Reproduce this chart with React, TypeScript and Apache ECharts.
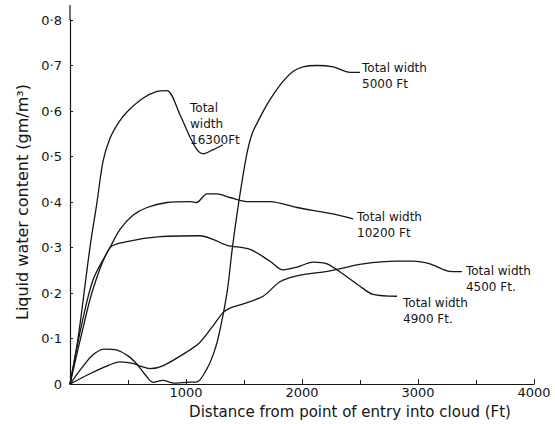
import React, { useEffect, useRef } from "react";
import * as echarts from "echarts";

// Tick labels
const xTicks = [0, 1000, 2000, 3000, 4000];
const yTicks = [0, 0.1, 0.2, 0.3, 0.4, 0.5, 0.6, 0.7, 0.8];

// Total width 16300 ft
const x16300 = [0, 69, 172, 233, 285, 345, 420, 491, 629, 750, 836, 948, 1034, 1095, 1147, 1233, 1319];
const y16300 = [0, 0.1, 0.3, 0.4, 0.49, 0.54, 0.575, 0.598, 0.628, 0.643, 0.645, 0.592, 0.543, 0.515, 0.506, 0.515, 0.526];

// Total width 5000 ft
const x5000 = [0, 100, 200, 300, 400, 500, 580, 650, 716, 800, 900, 1000, 1095, 1181, 1230, 1276, 1353, 1400, 1455, 1520, 1570, 1638, 1698, 1750, 1836, 1922, 2009, 2129, 2267, 2414, 2500];
const y5000 = [0, 0.035, 0.065, 0.077, 0.075, 0.062, 0.043, 0.02, 0.004, 0.008, 0.002, 0.004, 0.005, 0.034, 0.062, 0.1, 0.2, 0.3, 0.4, 0.5, 0.55, 0.586, 0.614, 0.635, 0.665, 0.687, 0.697, 0.7, 0.697, 0.685, 0.685];

// Total width 10200 ft
const x10200 = [0, 100, 200, 345, 431, 543, 664, 836, 1034, 1090, 1181, 1267, 1379, 1526, 1724, 1957, 2241, 2440];
const y10200 = [0, 0.13, 0.23, 0.3, 0.34, 0.371, 0.388, 0.399, 0.401, 0.399, 0.418, 0.418, 0.41, 0.401, 0.401, 0.388, 0.375, 0.363];

// Total width 4500 ft
const x4500 = [0, 150, 300, 431, 550, 600, 690, 800, 1009, 1121, 1233, 1319, 1379, 1466, 1664, 1810, 1957, 2241, 2526, 2819, 2957, 3103, 3250, 3379];
const y4500 = [0, 0.02, 0.038, 0.049, 0.045, 0.04, 0.034, 0.04, 0.071, 0.092, 0.128, 0.157, 0.167, 0.174, 0.193, 0.225, 0.238, 0.249, 0.264, 0.27, 0.27, 0.264, 0.249, 0.247];

// Total width 4900 ft
const x4900 = [0, 100, 200, 345, 491, 776, 1121, 1233, 1353, 1552, 1724, 1836, 1957, 2095, 2216, 2353, 2500, 2612, 2819];
const y4900 = [0, 0.11, 0.21, 0.3, 0.313, 0.324, 0.326, 0.318, 0.305, 0.296, 0.27, 0.251, 0.257, 0.268, 0.264, 0.242, 0.215, 0.197, 0.193];

const labels = {
  w16300: "Total\nwidth\n16300Ft",
  w5000: "Total width\n5000 Ft",
  w10200: "Total width\n10200 Ft",
  w4500: "Total width\n4500 Ft.",
  w4900: "Total width\n4900 Ft.",
};

const FONT = "DejaVu Sans";
const INK = "#151515";

function zip(xs: number[], ys: number[]) {
  return xs.map((x, i) => [x, ys[i]]);
}

function lineSeries(name: string, xs: number[], ys: number[], label: string, offset: number[]) {
  return {
    name,
    type: "line",
    data: zip(xs, ys),
    showSymbol: false,
    smooth: 0.3,
    lineStyle: { color: INK, width: 1.3 },
    endLabel: {
      show: true,
      formatter: () => label,
      color: INK,
      fontFamily: FONT,
      fontSize: 12,
      lineHeight: 16,
      align: "left",
      verticalAlign: "middle",
      distance: 0,
      offset,
    },
  };
}

export default function App() {
  const ref = useRef<HTMLDivElement>(null);
  useEffect(() => {
    if (!ref.current) return;
    const chart = echarts.init(ref.current, null, { renderer: "svg" });
    chart.setOption({
      animation: false,
      backgroundColor: "#ffffff",
      grid: { left: 70, right: 21, top: 20, bottom: 31 },
      xAxis: {
        type: "value",
        min: xTicks[0],
        max: xTicks[xTicks.length - 1],
        interval: 1000,
        name: "Distance from point of entry into cloud (Ft)",
        nameLocation: "middle",
        nameGap: 16,
        nameTextStyle: { fontFamily: FONT, fontSize: 15, color: INK, padding: [0, 0, 0, 96] },
        axisLine: { show: true, lineStyle: { color: INK, width: 1.2 } },
        axisTick: { show: true, inside: true, length: 5, lineStyle: { color: INK } },
        minorTick: { show: true, splitNumber: 2, length: 4, lineStyle: { color: INK } },
        axisLabel: {
          margin: 2,
          fontFamily: FONT,
          fontSize: 13,
          color: INK,
          formatter: (v: number) => (v === 0 ? "" : String(v)),
        },
        splitLine: { show: false },
      },
      yAxis: {
        type: "value",
        min: yTicks[0],
        max: yTicks[yTicks.length - 1],
        interval: 0.1,
        name: "Liquid water content (gm/m³)",
        nameLocation: "middle",
        nameGap: 34,
        nameRotate: 90,
        nameTextStyle: { fontFamily: FONT, fontSize: 16, color: INK },
        axisLine: { show: true, lineStyle: { color: INK, width: 1.2 } },
        axisTick: { show: true, inside: true, length: 3, lineStyle: { color: INK } },
        axisLabel: {
          margin: 8,
          fontFamily: FONT,
          fontSize: 13,
          color: INK,
          formatter: (v: number) => (v === 0 ? "0" : v.toFixed(1).replace(".", "·")),
        },
        splitLine: { show: false },
      },
      series: [
        lineSeries("16300", x16300, y16300, labels.w16300, [-33, -21]),
        lineSeries("5000", x5000, y5000, labels.w5000, [2, 4]),
        lineSeries("10200", x10200, y10200, labels.w10200, [4, 6]),
        lineSeries("4500", x4500, y4500, labels.w4500, [4, 7]),
        lineSeries("4900", x4900, y4900, labels.w4900, [6, 15]),
      ],
    });
    const top = chart.convertToPixel({ xAxisIndex: 0, yAxisIndex: 0 }, [0, yTicks[yTicks.length - 1]]);
    if (top) {
      chart.setOption({
        graphic: [
          {
            type: "line",
            shape: { x1: top[0], y1: top[1], x2: top[0], y2: top[1] - 15 },
            style: { stroke: INK, lineWidth: 1.2 },
          },
        ],
      });
    }
    return () => chart.dispose();
  }, []);
  return (
    <div
      ref={ref}
      style={{ position: "absolute", left: 0, top: 0, width: 555, height: 424 }}
    />
  );
}
